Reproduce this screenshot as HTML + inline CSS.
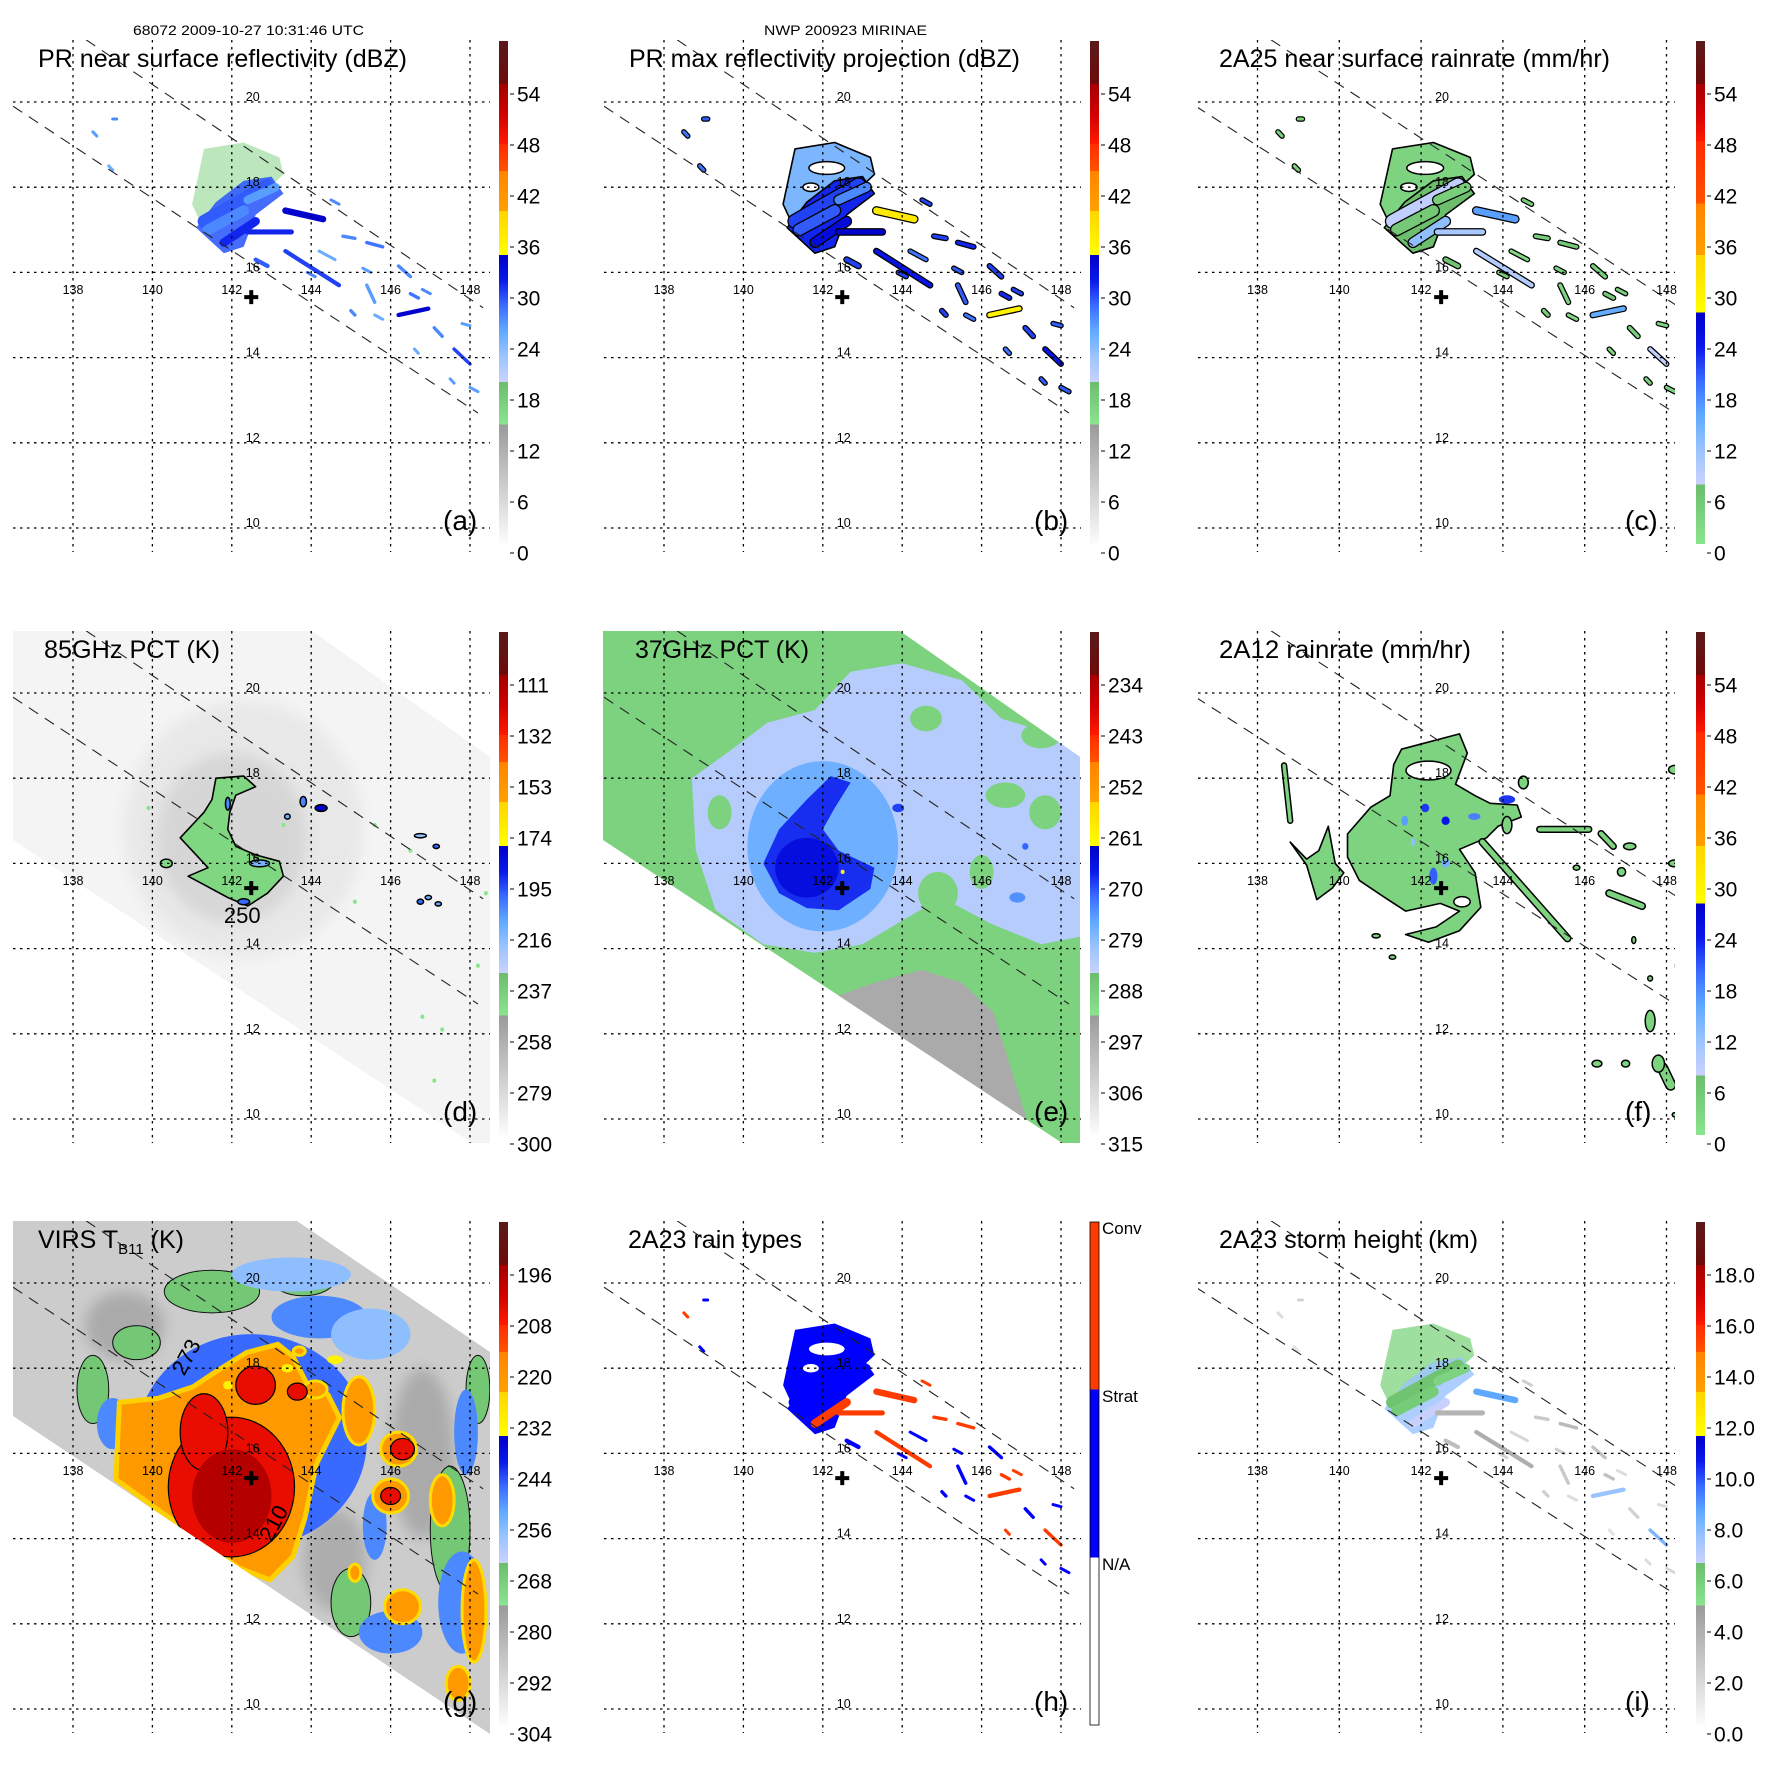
<!DOCTYPE html>
<html><head><meta charset="utf-8"><title>TRMM MIRINAE 2009-10-27</title>
<style>
html,body{margin:0;padding:0;background:#fff;}
svg{display:block;font-family:"Liberation Sans",Arial,sans-serif;}
</style></head>
<body>
<svg id="fig" width="1771" height="1771" viewBox="0 0 1771 1771" xmlns="http://www.w3.org/2000/svg">
<defs id="defs"></defs>
<rect x="0" y="0" width="1771" height="1771" fill="#ffffff"/>
<text x="133" y="35" font-size="14" textLength="231" lengthAdjust="spacingAndGlyphs">68072 2009-10-27 10:31:46 UTC</text>
<text x="764" y="35" font-size="14" textLength="163" lengthAdjust="spacingAndGlyphs">NWP 200923 MIRINAE</text>
</svg>
<script>
// ---------------- data ----------------
const ticksDbz=['0','6','12','18','24','30','36','42','48','54'];
const ticks85=['300','279','258','237','216','195','174','153','132','111'];
const ticks37=['315','306','297','288','279','270','261','252','243','234'];
const ticksVirs=['304','292','280','268','256','244','232','220','208','196'];
const ticksRain=['0','6','12','18','24','30','36','42','48','54'];
const ticksHeight=['0.0','2.0','4.0','6.0','8.0','10.0','12.0','14.0','16.0','18.0'];
const lonTicks=[138,140,142,144,146,148];
const latTicks=[20,18,16,14,12,10];
const stormCenter=[142.49,15.42];
const swathEdgeUpper=[[138.33,21.46],[148.33,15.17]];
const swathEdgeLower=[[136.49,19.9],[148.2,12.7]];

const prSegs=[[141.3,17.2,142.9,18.05,0.30],[141.4,17.0,142.3,17.45,0.25],[141.8,16.7,142.6,17.2,0.2],[142.4,17.7,143.1,18.0,0.2],[142.4,16.95,143.5,16.95,0.12],[143.35,17.45,144.3,17.25,0.15],[143.35,16.5,144.7,15.7,0.1],[142.6,16.3,142.9,16.15,0.1],[144.8,16.85,145.1,16.8,0.08],[145.4,16.7,145.8,16.6,0.08],[146.2,16.15,146.5,15.9,0.08],[145.4,15.7,145.6,15.3,0.08],[146.2,15.0,146.95,15.15,0.1],[146.5,15.5,146.7,15.4,0.08],[145.0,15.1,145.1,15.0,0.08],[147.1,14.7,147.3,14.5,0.08],[147.6,14.2,148.0,13.85,0.08],[148.0,13.3,148.2,13.2,0.06],[145.6,15.0,145.8,14.9,0.06],[144.5,17.7,144.7,17.6,0.06],[143.9,16.0,144.1,15.9,0.06],[138.5,19.3,138.6,19.2,0.05],[139.0,19.6,139.1,19.6,0.05],[138.9,18.5,139.0,18.4,0.05],[147.8,14.8,148.0,14.75,0.05],[146.6,14.2,146.7,14.1,0.05],[147.5,13.5,147.6,13.4,0.05],[144.2,16.5,144.6,16.3,0.06],[145.3,16.1,145.5,16.0,0.06],[146.8,15.6,147.0,15.5,0.06]];
const prDbz=[29,27,31,26,31,34,30,29,27,28,27,26,34,28,27,27,30,26,25,27,27,26,27,25,26,25,26,25,26,27];
const prMaxDbz=[30,29,33,27,34,37,32,30,30,31,30,29,36,31,30,30,32,29,28,30,30,28,29,28,29,28,29,28,29,30];
const prRain=[8,5,12,4,10,16,9,6,4,5,4,3,15,5,4,4,8,3,2,4,4,3,4,3,3,3,3,2,3,4];
const prType=[1,1,2,1,2,2,2,1,2,2,1,1,2,2,1,1,2,1,1,2,1,2,1,1,1,2,1,1,1,2];
const prHeight=[6.2,5.8,6.5,5.5,3.5,8.5,3.8,3.0,2.5,3.2,2.8,2.5,7.5,2.8,2.2,2.0,8.0,1.8,1.5,2.2,2.0,1.5,2.0,1.2,1.5,1.2,1.5,1.8,2.2,1.5];
const prUpper=[[141.3,18.9],[142.3,19.05],[143.2,18.7],[143.3,18.3],[142.5,17.6],[141.2,17.2],[141.0,17.6]];
const prCore=[[141.1,17.05],[141.6,17.65],[142.3,18.15],[143.0,18.25],[143.3,17.85],[142.6,17.35],[142.3,16.6],[141.8,16.45]];
const prHoles=[[142.1,18.45,0.45,0.15],[141.7,18.0,0.2,0.1]];
const regionDbz=[17,29], regionMaxDbz=[24,31], regionRain=[3,7], regionType=[1,1], regionHeight=[5.5,7.5];

const dHaze=[[142.3,16.8,3.0,3.0,284],[142.0,16.6,1.9,2.0,272]];
const dGreen=[[141.6,18.0],[142.3,18.05],[142.6,17.8],[142.1,17.6],[141.95,17.2],[141.9,16.8],[142.1,16.4],[142.6,16.2],[143.2,16.05],[143.3,15.7],[142.9,15.3],[142.4,15.0],[141.9,15.2],[141.3,15.5],[140.9,15.7],[141.4,15.9],[141.0,16.3],[140.7,16.6],[141.0,16.9],[141.3,17.2],[141.5,17.5]];
const dGreenVal=244;
const dBlobs=[[143.8,17.45,0.08,0.12,205],[144.25,17.3,0.15,0.08,180],[143.4,17.1,0.07,0.06,215],[146.75,16.65,0.15,0.05,220],[147.15,16.4,0.08,0.05,200],[146.75,15.1,0.08,0.06,200],[146.95,15.2,0.08,0.05,215],[147.2,15.05,0.08,0.05,210],[140.35,16.0,0.15,0.1,245],[142.3,15.1,0.15,0.07,200],[142.7,16.0,0.25,0.08,215],[141.9,17.4,0.06,0.15,205]];
const dSpecks=[[139.9,17.3],[143.3,16.9],[145.6,16.9],[146.8,12.4],[147.3,12.1],[147.1,10.9],[148.2,13.6],[148.4,15.3],[145.1,15.1],[146.5,16.3]];
const dSpeckVal=250;

const eBase=290;
const eLav=[[138.7,18.0],[139.6,18.6],[140.6,19.3],[141.8,19.6],[142.7,20.5],[144,20.7],[145.5,20.3],[146.5,19.4],[148.6,18.8],[148.6,14.3],[147.5,14.1],[146.2,14.6],[145,15.2],[143.9,14.6],[143.0,14.1],[141.8,13.9],[140.5,14.1],[139.3,14.9],[138.8,16.3]];
const eLavVal=284;
const eGreenPatches=[[144.6,19.4,0.4,0.3],[146.6,17.6,0.5,0.3],[147.6,17.2,0.4,0.4],[144.9,15.3,0.5,0.5],[146.0,15.8,0.3,0.4],[139.4,17.2,0.3,0.4],[147.5,19.0,0.5,0.3]];
const eLight=[142.0,16.4,1.9,2.0,278];
const eCore=[[142.2,18.05],[142.7,17.9],[142.3,17.3],[142.0,16.8],[142.4,16.3],[143.3,15.9],[143.2,15.4],[142.4,14.9],[141.6,14.95],[140.9,15.3],[140.5,16.0],[140.9,16.8],[141.6,17.5]];
const eCoreVal=269;
const eDeep=[141.6,15.9,0.8,0.7,266];
const eGray=[[142.4,12.9],[143.3,13.2],[144.5,13.5],[145.5,13.2],[146.3,12.5],[146.8,11.0],[147.3,9.5],[141,9.5]];
const eGrayVal=297;
const eSmall=[[143.9,17.3,0.15,0.1,270],[147.1,16.4,0.08,0.08,272],[146.9,15.2,0.2,0.12,275],[142.5,15.8,0.05,0.05,261]];

const fMain=[[141.52,18.68],[142.94,19.04],[143.13,18.59],[142.84,17.86],[143.32,17.59],[143.69,17.41],[144.35,17.37],[144.45,17.09],[143.88,16.87],[143.6,16.6],[142.94,16.33],[143.32,15.78],[143.46,14.97],[142.94,14.42],[142.18,14.15],[141.62,14.33],[142.37,14.51],[142.94,14.88],[142.47,15.06],[141.62,14.88],[141.05,15.24],[140.49,15.6],[140.2,16.15],[140.2,16.69],[140.77,17.32],[141.24,17.59],[141.33,18.32]];
const fMainVal=3;
const fHoles=[[142.18,18.18,0.55,0.22],[143.0,15.1,0.2,0.12]];
const fArm=[[138.8,16.5],[139.2,15.96],[139.45,15.15],[139.83,15.42],[140.11,15.78],[139.9,16.0],[139.73,16.87],[139.5,16.3],[139.2,16.1]];
const fSegs=[[143.5,16.5,145.58,14.24,0.12],[138.65,18.3,138.8,17.0,0.08],[144.9,16.8,146.1,16.8,0.1],[146.4,16.7,146.7,16.4,0.1],[146.6,15.3,147.4,15.0,0.12],[147.9,11.2,148.1,10.8,0.2]];
const fSegVals=[3,3,3,3,3,3];
const fBlobs=[[147.1,16.4,0.15,0.08],[148.2,18.2,0.15,0.1],[148.2,16.0,0.15,0.08],[147.6,12.3,0.12,0.25],[147.8,11.3,0.15,0.2],[146.3,11.3,0.12,0.08],[147.0,11.3,0.1,0.08],[148.3,13.6,0.08,0.12],[147.6,13.3,0.06,0.06],[147.2,14.2,0.05,0.08],[141.3,13.8,0.08,0.05],[140.9,14.3,0.1,0.05],[144.5,17.9,0.12,0.15],[148.2,10.1,0.06,0.05],[144.1,16.9,0.12,0.2],[146.9,15.8,0.1,0.1],[145.8,15.9,0.08,0.06]];
const fBlobVals=[3,3,3,3,3,3,3,3,3,3,3,3,3,3,3,3,3];
const fBlue=[[142.1,17.3,0.1,0.1,22],[142.6,17.0,0.1,0.1,24],[141.6,17.0,0.08,0.12,16],[142.3,15.7,0.1,0.2,20],[144.1,17.5,0.2,0.1,22],[143.3,17.1,0.15,0.08,18],[141.8,16.5,0.05,0.1,12],[142.6,16.0,0.1,0.1,14]];

const gBase=290;
const gDarkGray=[[139.3,19.0,1.0,0.8,280],[146.8,16.0,0.8,2.0,280],[144.6,13.5,0.8,1.2,281]];
const gGreen=[[141.5,19.8,1.2,0.5,268],[143.8,20.1,0.8,0.4,268],[138.5,17.5,0.4,0.8,268],[139.6,18.6,0.6,0.4,268],[147.5,14.2,0.5,1.5,268],[145.0,12.5,0.5,0.8,268],[148.2,17.5,0.3,0.8,268]];
const gRing=[142.5,16.3,2.9,2.5,247];
const gBlue=[[144.2,19.2,1.2,0.5,250],[147.8,12.5,0.6,1.2,250],[146.0,11.8,0.8,0.5,250],[147.9,16.5,0.3,1.0,250],[145.6,14.3,0.3,0.8,250],[139.0,16.7,0.4,0.6,250],[143.5,20.2,1.5,0.4,258],[145.5,18.8,1.0,0.6,258]];
const gOrange=[[139.17,17.2],[140.14,17.29],[141.02,17.56],[141.6,17.92],[142.38,18.37],[143.16,18.56],[143.54,18.28],[143.93,17.56],[144.42,17.38],[144.71,16.84],[144.13,15.75],[143.84,14.48],[143.54,13.58],[142.96,13.03],[142.18,13.31],[139.08,15.39]];
const gOrangeVal=222;
const gOrangeBlobs=[[145.2,17.0,0.4,0.8],[146.2,16.1,0.45,0.4],[146.0,15.0,0.45,0.4],[146.3,12.4,0.45,0.4],[148.1,12.3,0.3,1.2],[147.3,14.9,0.3,0.6],[145.1,13.2,0.15,0.2],[144.1,17.5,0.3,0.2],[143.7,18.4,0.15,0.1],[147.7,10.6,0.3,0.4]];
const gYellow=[[144.6,18.2,0.2,0.1],[143.4,18.0,0.15,0.1],[141.9,17.6,0.12,0.1],[141.9,14.0,0.3,0.15]];
const gRed=[[141.99,15.21,1.59,1.64],[141.3,16.5,0.6,0.9],[142.6,17.6,0.5,0.45],[143.65,17.45,0.25,0.2],[146.3,16.1,0.3,0.25],[146.0,15.0,0.25,0.2]];
const gRedVal=205;
const gDeep=[142.0,15.0,1.0,1.1,197];

// ---------------- rendering ----------------
const NS='http://www.w3.org/2000/svg';
const svg=document.getElementById('fig');
const defs=document.getElementById('defs');
function mk(tag,attrs,parent){const e=document.createElementNS(NS,tag);for(const k in attrs)e.setAttribute(k,attrs[k]);parent.appendChild(e);return e;}
const BLUE=['#cad2fc','#9cc4ff','#60aaff','#3a6cff','#0a18ea','#0000c8'];
const SEG_A=[[0,.238,['#fcfcfc','#9a9a9a']],[.238,.322,['#8ae48e','#6cbd6c']],[.322,.575,BLUE],[.575,.662,['#ffff00','#ffd400']],[.662,.742,['#ffa000','#ff8400']],[.742,.795,['#ff5200','#ff2c00']],[.795,.915,['#ff1a00','#d00000','#a40000']],[.915,1.0001,['#6e0a0a','#5a1a1a']]];
const SEG_C=[[0,.118,['#8ae48e','#6cbd6c']],[.118,.46,BLUE],[.46,.575,['#ffff00','#ffd400']],[.575,.677,['#ffa000','#ff8400']],[.677,.8,['#ff5200','#ff2c00']],[.8,.915,['#ff1a00','#d00000','#a40000']],[.915,1.0001,['#6e0a0a','#5a1a1a']]];
const SEG_H=[[0,.3333,['#ffffff','#ffffff']],[.3333,.6667,['#0000ff','#0000ff']],[.6667,1.0001,['#ff3c00','#ff3c00']]];
function hex(c){return [parseInt(c.slice(1,3),16),parseInt(c.slice(3,5),16),parseInt(c.slice(5,7),16)];}
function colorAt(seg,f){f=Math.max(0,Math.min(1,f));for(const s of seg){const a=s[0],b=s[1],cs=s[2];if(f>=a&&f<b){const t=(f-a)/(b-a)*(cs.length-1);const i=Math.min(Math.floor(t),cs.length-2);const u=t-i;const c0=hex(cs[i]),c1=hex(cs[i+1]);return 'rgb('+c0.map((v,k)=>Math.round(v+(c1[k]-v)*u)).join(',')+')';}}const l=seg[seg.length-1][2];return l[l.length-1];}
function makeGrad(id,seg){const g=mk('linearGradient',{id:id,x1:0,y1:1,x2:0,y2:0},defs);for(const s of seg){const cs=s[2];cs.forEach((c,j)=>{mk('stop',{offset:Math.min(1,s[0]+(s[1]-s[0])*j/(cs.length-1)),'stop-color':c},g);});}}
makeGrad('gradA',SEG_A);makeGrad('gradC',SEG_C);makeGrad('gradH',SEG_H);
const flt=mk('filter',{id:'soft',x:'-50%',y:'-50%',width:'200%',height:'200%'},defs);
mk('feGaussianBlur',{stdDeviation:7},flt);

const colX=[0,591,1185], rowY=[0,591,1181], dxDeg=[39.7,39.7,40.9], lon0X=[73,73,72.5], cbXs=[499,499,511];

function drawPanel(p){
  const ox=colX[p.col], oy=rowY[p.row], dx=dxDeg[p.col], x0=lon0X[p.col];
  const X=lon=>ox+x0+(lon-138)*dx, Y=lat=>oy+102+(20-lat)*42.6;
  const col=v=>colorAt(p.seg,(v-p.vb)/(p.vt-p.vb));
  const H={
    ell(par,lon,lat,rx,ry,fill,name){const e=mk('ellipse',{cx:X(lon),cy:Y(lat),rx:rx*dx,ry:ry*42.6,fill:fill},par);
      
      
      return e;},
    poly(par,pts,fill,name){const e=mk('polygon',{points:pts.map(q=>X(q[0]).toFixed(1)+','+Y(q[1]).toFixed(1)).join(' '),fill:fill,'stroke-linejoin':'round'},par);
      
      
      return e;},
    line(par,s,color,width,name){const e=mk('line',{x1:X(s[0]),y1:Y(s[1]),x2:X(s[2]),y2:Y(s[3]),stroke:color,'stroke-width':width,'stroke-linecap':'round'},par);
      
      
      return e;}
  };
  const g=mk('g',{},svg);
  
  
  const cp=mk('clipPath',{id:'clip-'+p.key},defs);
  if(p.swath){mk('polygon',{points:p.swath.map(q=>(ox+q[0])+','+(oy+q[1])).join(' ')},cp);}
  else{mk('rect',{x:ox+13,y:oy+40,width:477,height:512},cp);}
  const data=mk('g',{'clip-path':'url(#clip-'+p.key+')'},g);
  
  
  if(p.swath){const s=mk('rect',{x:ox,y:oy,width:500,height:560,fill:col(p.base)},data);
    
    }
  p.draw(data,H,col,X,Y);
  const grid=mk('g',{stroke:'#000','stroke-width':1.3,'stroke-dasharray':'2.5,4.5',fill:'none'},g);
  
  
  lonTicks.forEach(lon=>{const l=mk('line',{x1:X(lon),x2:X(lon),y1:oy+40,y2:oy+552},grid);
    
    });
  latTicks.forEach(lat=>{const l=mk('line',{x1:ox+13,x2:ox+490,y1:Y(lat),y2:Y(lat)},grid);
    
    });
  const clipM=mk('clipPath',{id:'clipm-'+p.key},defs);
  mk('rect',{x:ox+13,y:oy+40,width:477,height:512},clipM);
  const edges=mk('g',{'clip-path':'url(#clipm-'+p.key+')',stroke:'#222','stroke-width':1.1,'stroke-dasharray':'11,8'},g);
  
  
  [swathEdgeUpper,swathEdgeLower].forEach((e,i)=>{const l=mk('line',{x1:X(e[0][0]),y1:Y(e[0][1]),x2:X(e[1][0]),y2:Y(e[1][1])},edges);
    
    });
  lonTicks.forEach(lon=>{const t=mk('text',{x:X(lon),y:oy+294,'font-size':12.5,'text-anchor':'middle'},g);t.textContent=String(lon);
    
    });
  latTicks.forEach(lat=>{const t=mk('text',{x:X(142)+14,y:Y(lat)-1,'font-size':12.5},g);t.textContent=String(lat);
    
    });
  const cx=X(stormCenter[0]), cy=Y(stormCenter[1]);
  const pl=mk('path',{d:`M${cx-7},${cy}H${cx+7}M${cx},${cy-7}V${cy+7}`,stroke:'#000','stroke-width':4},g);
  
  
  const tt=mk('text',{x:ox+p.tx,y:oy+67,'font-size':25},g);
  if(p.tl){tt.setAttribute('textLength',p.tl);tt.setAttribute('lengthAdjust','spacingAndGlyphs');}
  if(p.sub){tt.textContent='VIRS T';const s=mk('tspan',{'font-size':15,dy:6},tt);s.textContent='B11';const r=mk('tspan',{dy:-6},tt);r.textContent=' (K)';}
  else tt.textContent=p.title;
  
  
  const lt=mk('text',{x:ox+(p.col===2?440:443),y:oy+530,'font-size':28},g);lt.textContent='('+p.key+')';
  
  
  const cbx=ox+cbXs[p.col];
  const cb=mk('rect',{x:cbx,y:oy+41,width:9,height:503,fill:'url(#'+p.grad+')'},g);
  
  
  if(p.key==='h'){cb.setAttribute('stroke','#000');cb.setAttribute('stroke-width','0.8');
    const labs=['N/A','Strat','Conv'];
    labs.forEach((s,i)=>{const t=mk('text',{x:cbx+12,y:oy+544-(i+1)*168+13,'font-size':17},g);t.textContent=s;
      
      });
  } else {
    p.ticks.forEach((s,i)=>{const t=mk('text',{x:cbx+18,y:oy+553-i*51+7.5,'font-size':21},g);t.textContent=s;
      
      
      const tk=mk('line',{x1:cbx+11,x2:cbx+15,y1:oy+553-i*51,y2:oy+553-i*51,stroke:'#000','stroke-width':1},g);
      
      });
  }
}

function drawPR(vals,regionVals,opts){
  return function(data,H,col){
    const up=H.poly(data,prUpper,col(regionVals[0]),'upper-rain-region');
    up.setAttribute('fill-opacity',opts.upOp||1);
    const co=H.poly(data,prCore,col(regionVals[1]),'core-rain-region');
    co.setAttribute('fill-opacity',opts.coOp||1);
    if(opts.outline){up.setAttribute('stroke','#000');up.setAttribute('stroke-width','1.6');co.setAttribute('stroke','#000');co.setAttribute('stroke-width','1.6');}
    if(opts.holes){prHoles.forEach(h=>{const e=H.ell(data,h[0],h[1],h[2],h[3],'#fff','rain-free-hole');if(opts.outline){e.setAttribute('stroke','#000');e.setAttribute('stroke-width','1.5');}});}
    prSegs.forEach((s,i)=>{const w=Math.max(3,s[4]*42.6);
      if(opts.outline)H.line(data,s,'#000',w+2.5,'rain-cell-contour');
      H.line(data,s,col(vals[i]),w,'rain-cell');});
  };
}

const panels=[
 {key:'a',col:0,row:0,title:'PR near surface reflectivity (dBZ)',tx:38,tl:369,seg:SEG_A,grad:'gradA',vb:0,vt:60,ticks:ticksDbz,draw:drawPR(prDbz,regionDbz,{upOp:0.5,coOp:0.9})},
 {key:'b',col:1,row:0,title:'PR max reflectivity projection (dBZ)',tx:38,tl:391,seg:SEG_A,grad:'gradA',vb:0,vt:60,ticks:ticksDbz,draw:drawPR(prMaxDbz,regionMaxDbz,{outline:true,holes:true})},
 {key:'c',col:2,row:0,title:'2A25 near surface rainrate (mm/hr)',tx:34,tl:391,seg:SEG_C,grad:'gradC',vb:0,vt:60,ticks:ticksRain,draw:drawPR(prRain,regionRain,{outline:true,holes:true})},
 {key:'d',col:0,row:1,title:'85GHz PCT (K)',tx:44,tl:176,seg:SEG_A,grad:'gradA',vb:300,vt:90,ticks:ticks85,base:296,
  swath:[[13,40],[312,40],[490,166],[490,552],[472,552],[13,249]],
  draw(data,H,col,X,Y){
    dHaze.forEach(h=>{const e=H.ell(data,h[0],h[1],h[2],h[3],col(h[4]),'cold-haze');e.setAttribute('filter','url(#soft)');e.setAttribute('opacity','0.5');});
    const gp=H.poly(data,dGreen,col(dGreenVal),'ice-scattering-region');gp.setAttribute('stroke','#000');gp.setAttribute('stroke-width','1.6');
    dBlobs.forEach(b=>{const e=H.ell(data,b[0],b[1],b[2],b[3],col(b[4]),'ice-cell');e.setAttribute('stroke','#000');e.setAttribute('stroke-width','1.5');});
    dSpecks.forEach(s=>{H.ell(data,s[0],s[1],0.05,0.05,col(dSpeckVal),'speck');});
    const t=mk('text',{x:X(141.8),y:Y(14.6),'font-size':22},data);t.textContent='250';
    
    
  }},
 {key:'e',col:1,row:1,title:'37GHz PCT (K)',tx:44,tl:174,seg:SEG_A,grad:'gradA',vb:315,vt:225,ticks:ticks37,base:eBase,
  swath:[[12,40],[309,40],[489,166],[489,552],[471,552],[12,249]],
  draw(data,H,col){
    H.poly(data,eGray,col(eGrayVal),'warm-ocean-region');
    H.poly(data,eLav,col(eLavVal),'light-rain-region');
    eGreenPatches.forEach(q=>H.ell(data,q[0],q[1],q[2],q[3],col(eBase),'clear-patch'));
    H.ell(data,eLight[0],eLight[1],eLight[2],eLight[3],col(eLight[4]),'moderate-rain-region');
    H.poly(data,eCore,col(eCoreVal),'heavy-rain-core');
    H.ell(data,eDeep[0],eDeep[1],eDeep[2],eDeep[3],col(eDeep[4]),'eyewall-core');
    eSmall.forEach(q=>H.ell(data,q[0],q[1],q[2],q[3],col(q[4]),'rain-cell'));
  }},
 {key:'f',col:2,row:1,title:'2A12 rainrate (mm/hr)',tx:34,tl:252,seg:SEG_C,grad:'gradC',vb:0,vt:60,ticks:ticksRain,
  draw(data,H,col){
    const m=H.poly(data,fMain,col(fMainVal),'main-rain-shield');m.setAttribute('stroke','#000');m.setAttribute('stroke-width','1.6');
    const a=H.poly(data,fArm,col(fMainVal),'rain-band-west');a.setAttribute('stroke','#000');a.setAttribute('stroke-width','1.6');
    fHoles.forEach(h=>{const e=H.ell(data,h[0],h[1],h[2],h[3],'#fff','rain-free-hole');e.setAttribute('stroke','#000');e.setAttribute('stroke-width','1.5');});
    fSegs.forEach((s,i)=>{H.line(data,s,'#000',s[4]*42.6+3,'rain-band-contour');H.line(data,s,col(fSegVals[i]),s[4]*42.6,'rain-band');});
    fBlobs.forEach((b,i)=>{const e=H.ell(data,b[0],b[1],b[2],b[3],col(fBlobVals[i]),'rain-cell');e.setAttribute('stroke','#000');e.setAttribute('stroke-width','1.5');});
    fBlue.forEach(b=>H.ell(data,b[0],b[1],b[2],b[3],col(b[4]),'heavy-rain-cell'));
  }},
 {key:'g',col:0,row:2,title:'VIRS TB11 (K)',sub:true,tx:38,seg:SEG_A,grad:'gradA',vb:304,vt:184,ticks:ticksVirs,base:gBase,
  swath:[[13,40],[297,40],[490,171],[490,553],[13,235]],
  draw(data,H,col,X,Y){
    gDarkGray.forEach(q=>{const e=H.ell(data,q[0],q[1],q[2],q[3],col(q[4]),'warm-cloud');e.setAttribute('filter','url(#soft)');});
    gGreen.forEach(q=>{const e=H.ell(data,q[0],q[1],q[2],q[3],col(q[4]),'mid-cloud');e.setAttribute('stroke','#111');e.setAttribute('stroke-width','1');});
    H.ell(data,gRing[0],gRing[1],gRing[2],gRing[3],col(gRing[4]),'cirrus-ring');
    gBlue.forEach(q=>H.ell(data,q[0],q[1],q[2],q[3],col(q[4]),'cold-cloud'));
    const o=H.poly(data,gOrange,col(gOrangeVal),'central-dense-overcast');o.setAttribute('stroke','#ffd000');o.setAttribute('stroke-width','5');
    gOrangeBlobs.forEach(q=>{const e=H.ell(data,q[0],q[1],q[2],q[3],col(gOrangeVal),'convective-tower');e.setAttribute('stroke','#ffdc00');e.setAttribute('stroke-width','3');});
    gYellow.forEach(q=>H.ell(data,q[0],q[1],q[2],q[3],col(232),'cloud-top'));
    gRed.forEach(q=>{const e=H.ell(data,q[0],q[1],q[2],q[3],col(gRedVal),'cold-cloud-top');e.setAttribute('stroke','#000');e.setAttribute('stroke-width','1.2');});
    H.ell(data,gDeep[0],gDeep[1],gDeep[2],gDeep[3],col(gDeep[4]),'coldest-core');
    const t1=mk('text',{x:X(143.0),y:Y(13.9),'font-size':22,transform:`rotate(-62 ${X(143.0)} ${Y(13.9)})`},data);t1.textContent='210';
    
    
    const t2=mk('text',{x:X(140.8),y:Y(17.8),'font-size':22,transform:`rotate(-62 ${X(140.8)} ${Y(17.8)})`},data);t2.textContent='273';
    
    
  }},
 {key:'h',col:1,row:2,title:'2A23 rain types',tx:37,tl:174,seg:SEG_H,grad:'gradH',vb:-0.5,vt:2.5,draw:drawPR(prType,regionType,{holes:true})},
 {key:'i',col:2,row:2,title:'2A23 storm height (km)',tx:34,tl:259,seg:SEG_A,grad:'gradA',vb:0,vt:20,ticks:ticksHeight,draw:drawPR(prHeight,regionHeight,{upOp:0.75,coOp:0.8})}
];
panels.forEach(drawPanel);
</script>
</body></html>
